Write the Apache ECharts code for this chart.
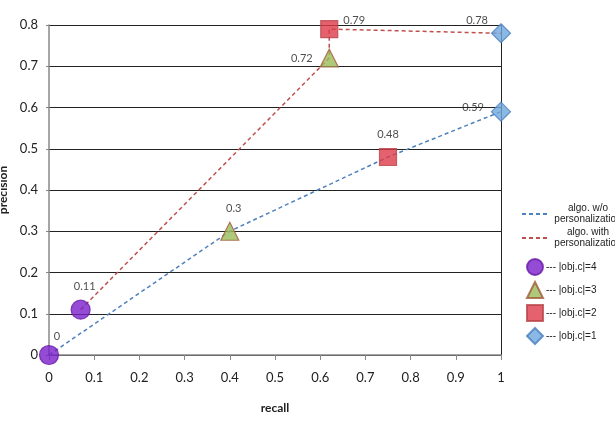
<!DOCTYPE html>
<html>
<head>
<meta charset="utf-8">
<script src="https://cdn.jsdelivr.net/npm/echarts@6/dist/echarts.min.js"></script>
<style>
  html, body { margin: 0; padding: 0; background: #fff; }
  #chart { width: 615px; height: 422px; }
</style>
</head>
<body>
<div id="chart"></div>
<script>
// recall / precision pairs for each algorithm
const woRecall = [0, 0.4, 0.75, 1]
const woPrecision = [0, 0.3, 0.48, 0.59]
const withRecall = [0.07, 0.62, 0.62, 1]
const withPrecision = [0.11, 0.72, 0.79, 0.78]

// markers grouped by |obj.c| : [w/o point, with point]
const objNames = ['--- |obj.c|=4', '--- |obj.c|=3', '--- |obj.c|=2', '--- |obj.c|=1']
const objWo = [[0, 0], [0.4, 0.3], [0.75, 0.48], [1, 0.59]]
const objWith = [[0.07, 0.11], [0.62, 0.72], [0.62, 0.79], [1, 0.78]]
const lineNames = ['algo. w/o\npersonalization', 'algo. with\npersonalization']

const xTicks = [0, 0.1, 0.2, 0.3, 0.4, 0.5, 0.6, 0.7, 0.8, 0.9, 1]
const yTicks = [0, 0.1, 0.2, 0.3, 0.4, 0.5, 0.6, 0.7, 0.8]

const font = 'Lato, "Open Sans", sans-serif'
const legendFont = '"Liberation Sans", Arial, sans-serif'
const symbols = ['circle', 'triangle', 'rect', 'diamond']
const fills = ['#7b1fc9', '#9bbb59', '#dc3b4a', '#6fa8dc']
const borders = ['#6a1aa8', '#a05a3a', '#b8454a', '#4a80c0']
const sizes = [19, 18, 17, 19]
// label placement for [w/o, with] point of each marker group
const labelPlace = [
  [{ position: 'top', offset: [8, 2] }, { position: 'top', offset: [4, -3] }],
  [{ position: 'top', offset: [4, -3] }, { position: 'left', offset: [-2, 0] }],
  [{ position: 'top', offset: [0, -3] }, { position: 'right', offset: [0, -9] }],
  [{ position: 'left', offset: [-2, -4] }, { position: 'left', offset: [2, -13] }],
]

const chart = echarts.init(document.getElementById('chart'))

const scatterSeries = objNames.map((name, i) => ({
  name,
  type: 'scatter',
  symbol: symbols[i],
  symbolSize: sizes[i],
  z: 5,
  itemStyle: { color: fills[i], borderColor: borders[i], borderWidth: 1.2 },
  label: { show: true, fontSize: 11, color: '#222', fontFamily: font, formatter: p => String(p.value[1]) },
  data: [objWo[i], objWith[i]].map((v, k) => ({ value: v, label: labelPlace[i][k] })),
}))

chart.setOption({
  animation: false,
  grid: { left: 49, right: 114, top: 25, bottom: 67, outerBoundsMode: 'none', containLabel: false },
  legend: [
    {
      data: lineNames,
      orient: 'vertical',
      left: 516,
      top: 198,
      itemWidth: 28,
      itemHeight: 10,
      itemGap: 2,
      itemStyle: { opacity: 0 },
      textStyle: {
        fontSize: 10,
        fontFamily: legendFont,
        color: '#222',
        lineHeight: 11,
        rich: { c: { width: 66, align: 'center', fontSize: 10, lineHeight: 11, fontFamily: legendFont, color: '#222' } },
      },
      formatter: name => name.split('\n').map(s => '{c|' + s + '}').join('\n'),
    },
    {
      data: objNames,
      orient: 'vertical',
      left: 521,
      top: 253,
      itemWidth: 16,
      itemHeight: 16,
      itemGap: 5,
      textStyle: { fontSize: 10, fontFamily: legendFont, color: '#222', padding: [0, 0, 0, -2] },
    },
  ],
  xAxis: {
    type: 'value',
    min: 0,
    max: 1,
    interval: 0.1,
    name: 'recall',
    nameLocation: 'middle',
    nameGap: 47,
    nameTextStyle: { fontWeight: 'bold', fontSize: 12, color: '#222', fontFamily: font },
    axisLine: { show: true, lineStyle: { color: '#888', width: 1.5 } },
    axisTick: { show: true, length: 5, lineStyle: { color: '#888' } },
    axisLabel: { fontSize: 13, color: '#222', fontFamily: font, margin: 16, formatter: v => String(xTicks[Math.round(v * 10)]) },
    splitLine: { show: false },
  },
  yAxis: [
    {
      type: 'value',
      min: 0,
      max: 0.8,
      interval: 0.1,
      name: 'precision',
      nameLocation: 'middle',
      nameGap: 39,
      nameTextStyle: { fontWeight: 'bold', fontSize: 12, color: '#222', fontFamily: font },
      axisLine: { show: true, lineStyle: { color: '#888', width: 1.5 } },
      axisTick: { show: true, length: 3, lineStyle: { color: '#888' } },
      axisLabel: { fontSize: 13, color: '#222', fontFamily: font, margin: 11, formatter: v => String(yTicks[Math.round(v * 10)]) },
      splitLine: { show: true, lineStyle: { color: '#222', width: 1 } },
    },
    {
      type: 'value',
      min: 0,
      max: 0.8,
      interval: 0.1,
      position: 'right',
      axisLine: { show: true, lineStyle: { color: '#222', width: 1 } },
      axisTick: { show: false },
      axisLabel: { show: false },
      splitLine: { show: false },
    },
  ],
  series: [
    {
      name: lineNames[0],
      type: 'line',
      symbol: 'none',
      z: 3,
      color: '#4f81bd',
      lineStyle: { color: '#4f81bd', width: 1.5, type: [4, 3] },
      data: woRecall.map((r, i) => [r, woPrecision[i]]),
    },
    {
      name: lineNames[1],
      type: 'line',
      symbol: 'none',
      z: 3,
      color: '#c0504d',
      lineStyle: { color: '#c0504d', width: 1.5, type: [4, 3] },
      data: withRecall.map((r, i) => [r, withPrecision[i]]),
    },
    ...scatterSeries,
  ],
})
</script>
</body>
</html>
